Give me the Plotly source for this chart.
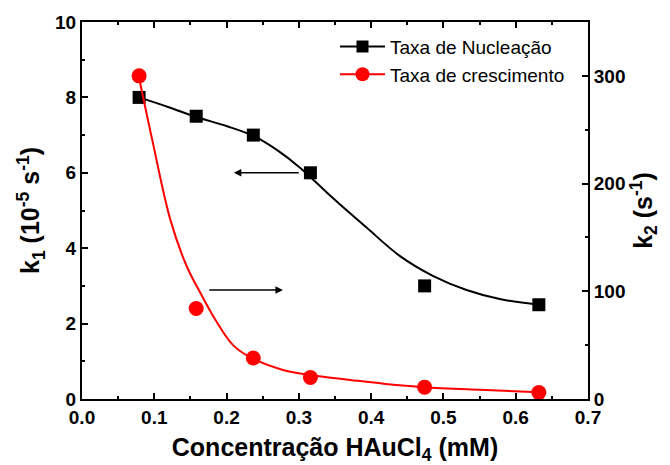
import plotly.graph_objects as go

# HAuCl4 concentrations (mM)
conc = [0.079, 0.158, 0.237, 0.316, 0.474, 0.632]
# nucleation rate k1 (10^-5 s^-1), left axis
k1 = [8.0, 7.5, 7.0, 6.0, 3.0, 2.5]
# growth rate k2 (s^-1), right axis
k2 = [300, 84, 38, 20, 11, 6]

# fitted curves
k1_fit_x = [0.079, 0.12, 0.158, 0.2, 0.237, 0.27, 0.302, 0.347, 0.394, 0.44, 0.486, 0.532, 0.578, 0.632]
k1_fit_y = [8.0, 7.74, 7.48, 7.24, 6.98, 6.6, 6.13, 5.33, 4.54, 3.79, 3.26, 2.89, 2.65, 2.50]
k2_fit_x = [0.079, 0.098, 0.122, 0.145, 0.165, 0.186, 0.209, 0.232, 0.278, 0.325, 0.371, 0.42, 0.473, 0.55, 0.632]
k2_fit_y = [298, 238, 167, 123, 97, 72, 50, 39, 27, 21.4, 17.7, 14, 11, 8.5, 6.3]

# axis ticks
x_ticks = [0.0, 0.1, 0.2, 0.3, 0.4, 0.5, 0.6, 0.7]
y1_ticks = [0, 2, 4, 6, 8, 10]
y2_ticks = [0, 100, 200, 300]

FONT = "Liberation Sans"
RED = "#ff0000"

fig = go.Figure()

# fitted curves
fig.add_trace(go.Scatter(x=k1_fit_x, y=k1_fit_y, mode="lines", line=dict(color="black", width=2, shape="spline"),
                         showlegend=False, hoverinfo="skip"))
fig.add_trace(go.Scatter(x=k2_fit_x, y=k2_fit_y, mode="lines", line=dict(color=RED, width=2, shape="spline"),
                         showlegend=False, hoverinfo="skip", yaxis="y2"))

# measured points
fig.add_trace(go.Scatter(x=conc, y=k1, mode="markers", showlegend=False,
                         marker=dict(symbol="square", size=13, color="black")))
fig.add_trace(go.Scatter(x=conc, y=k2, mode="markers", showlegend=False, yaxis="y2",
                         marker=dict(symbol="circle", size=15, color=RED)))

# legend entries (line + marker)
fig.add_trace(go.Scatter(x=[None], y=[None], mode="lines+markers", name="Taxa de Nucleação",
                         marker=dict(symbol="square", size=12, color="black"),
                         line=dict(color="black", width=2)))
fig.add_trace(go.Scatter(x=[None], y=[None], mode="lines+markers", name="Taxa de crescimento",
                         marker=dict(symbol="circle", size=14, color=RED),
                         line=dict(color=RED, width=2)))

tickfont = dict(family=FONT, size=19, color="black", weight="bold")
titlefont = dict(family=FONT, size=25, color="black", weight="bold")


def bold(vals, fmt):
    return ["<b>" + fmt.format(v) + "</b>" for v in vals]


common = dict(ticks="inside", ticklen=6, tickwidth=1.5, tickcolor="black", showline=True,
              linecolor="black", linewidth=2, showgrid=False, zeroline=False, automargin=False,
              tickfont=tickfont)

fig.update_layout(
    width=670, height=465,
    margin=dict(l=82, r=82, t=22, b=66),
    plot_bgcolor="white", paper_bgcolor="white",
    font=dict(family=FONT, color="black"),
    xaxis=dict(range=[0, 0.7], tickvals=x_ticks, ticktext=bold(x_ticks, "{:.1f}"), mirror="ticks",
               minor=dict(dtick=0.05, ticks="inside", ticklen=3, tickwidth=1.5, tickcolor="black"),
               title=dict(text="<b>Concentração HAuCl<sub>4</sub> (mM)</b>", font=titlefont, standoff=12),
               **common),
    yaxis=dict(range=[0, 10], tickvals=y1_ticks, ticktext=bold(y1_ticks, "{}"),
               minor=dict(dtick=1, ticks="inside", ticklen=3, tickwidth=1.5, tickcolor="black"),
               title=dict(text="<b>k<sub>1</sub> (10<sup>-5</sup> s<sup>-1</sup>)</b>", font=titlefont, standoff=8),
               **common),
    yaxis2=dict(range=[0, 350], tickvals=y2_ticks, ticktext=bold(y2_ticks, "{}"),
                overlaying="y", side="right",
                minor=dict(dtick=50, ticks="inside", ticklen=3, tickwidth=1.5, tickcolor="black"),
                title=dict(text="<b>k<sub>2</sub> (s<sup>-1</sup>)</b>", font=titlefont, standoff=8),
                **common),
    legend=dict(x=0.5, y=0.985, xanchor="left", yanchor="top", bgcolor="rgba(0,0,0,0)",
                font=dict(family=FONT, size=19, color="black"), itemwidth=45, tracegroupgap=7),
    showlegend=True,
)

# arrows pointing to each series' axis
fig.add_annotation(x=0.21, y=6.0, ax=0.302, ay=6.0, xref="x", yref="y", axref="x", ayref="y",
                   showarrow=True, arrowhead=2, arrowsize=1, arrowwidth=1.5, arrowcolor="black", text="")
fig.add_annotation(x=0.278, y=2.89, ax=0.174, ay=2.89, xref="x", yref="y", axref="x", ayref="y",
                   showarrow=True, arrowhead=2, arrowsize=1, arrowwidth=1.5, arrowcolor="black", text="")

fig.write_html("out.html")
